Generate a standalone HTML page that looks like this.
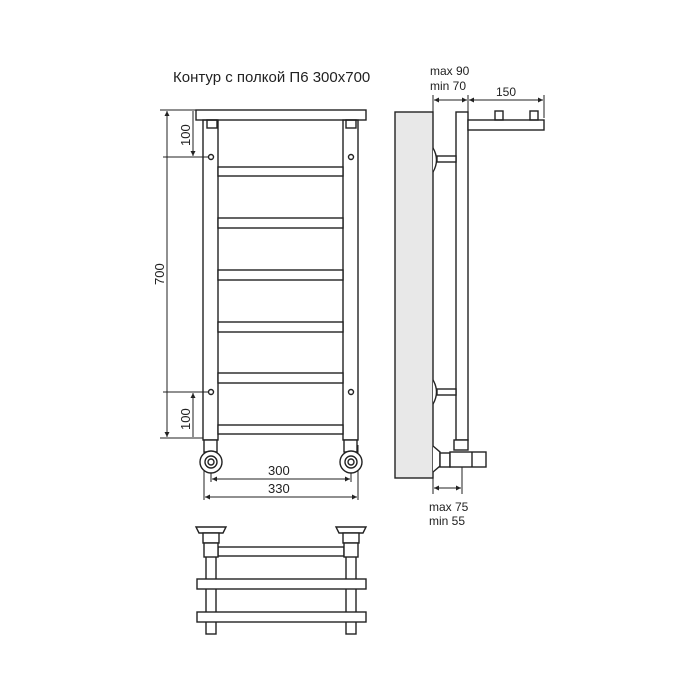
<!DOCTYPE html><html><head><style>body{margin:0;background:#fff}svg{display:block}text{font-family:"Liberation Sans",sans-serif;fill:#222}</style></head><body>
<svg width="700" height="700" viewBox="0 0 700 700" stroke="#222" stroke-width="1.4" fill="none">
<defs><marker id="a" markerWidth="6" markerHeight="6" refX="5" refY="3" orient="auto-start-reverse"><path d="M0,0.5 L5,3 L0,5.5" fill="#222" stroke="none"/></marker></defs>
<text x="173" y="82" font-size="15" stroke="none">Контур с полкой П6 300х700</text>
<rect x="196" y="110" width="170" height="10" fill="#fff"/>
<rect x="207" y="120" width="10" height="8"/><rect x="346" y="120" width="10" height="8"/>
<rect x="203" y="120" width="15" height="320"/><rect x="343" y="120" width="15" height="320"/>
<g fill="#fff"><rect x="218" y="167" width="125" height="9"/><rect x="218" y="218" width="125" height="10"/><rect x="218" y="270" width="125" height="10"/><rect x="218" y="322" width="125" height="10"/><rect x="218" y="373" width="125" height="10"/><rect x="218" y="425" width="125" height="9"/></g>
<circle cx="211" cy="157" r="2.5"/><circle cx="351" cy="157" r="2.5"/><circle cx="211" cy="392" r="2.5"/><circle cx="351" cy="392" r="2.5"/>
<g stroke-width="1">
<line x1="160" y1="110" x2="196" y2="110"/><line x1="163" y1="157" x2="208" y2="157"/><line x1="163" y1="392" x2="208" y2="392"/><line x1="160" y1="438" x2="203" y2="438"/>
<line x1="167" y1="111" x2="167" y2="437" marker-start="url(#a)" marker-end="url(#a)"/>
<line x1="193" y1="111" x2="193" y2="156" marker-end="url(#a)"/>
<line x1="193" y1="393" x2="193" y2="437" marker-start="url(#a)"/>
<line x1="212" y1="479" x2="350" y2="479" marker-start="url(#a)" marker-end="url(#a)"/>
<line x1="205" y1="497" x2="357" y2="497" marker-start="url(#a)" marker-end="url(#a)"/>
<line x1="204" y1="445" x2="204" y2="500"/><line x1="358" y1="445" x2="358" y2="500"/>
<line x1="211" y1="470" x2="211" y2="482"/><line x1="351" y1="470" x2="351" y2="482"/>
</g>
<text transform="translate(164,285) rotate(-90)" font-size="13" stroke="none">700</text>
<text transform="translate(190,146) rotate(-90)" font-size="13" stroke="none">100</text>
<text transform="translate(190,430) rotate(-90)" font-size="13" stroke="none">100</text>
<text x="268" y="475" font-size="13" stroke="none">300</text>
<text x="268" y="493" font-size="13" stroke="none">330</text>
<g fill="#fff"><rect x="204" y="440" width="13" height="12"/><rect x="344" y="440" width="13" height="12"/>
<circle cx="211" cy="462" r="11"/><circle cx="351" cy="462" r="11"/><circle cx="211" cy="462" r="6"/><circle cx="351" cy="462" r="6"/><circle cx="211" cy="462" r="3"/><circle cx="351" cy="462" r="3"/></g>
<rect x="395" y="112" width="38" height="366" fill="#e8e8e8"/>
<rect x="456" y="112" width="12" height="328" fill="#fff"/>
<rect x="468" y="120" width="76" height="10" fill="#fff"/>
<rect x="495" y="111" width="8" height="9"/><rect x="530" y="111" width="8" height="9"/>
<path d="M433,148 Q440,160 433,172" fill="#fff"/><rect x="437" y="156" width="19" height="6" fill="#fff"/>
<path d="M433,380 Q440,392 433,404" fill="#fff"/><rect x="437" y="389" width="19" height="6" fill="#fff"/>
<rect x="454" y="440" width="14" height="10" fill="#fff"/>
<path d="M433,446 L440,452 L440,466 L433,472" fill="#fff"/>
<rect x="440" y="453" width="10" height="14" fill="#fff"/>
<rect x="450" y="452" width="36" height="15" fill="#fff"/><line x1="472" y1="452" x2="472" y2="467"/>
<g stroke-width="1">
<line x1="433" y1="95" x2="433" y2="112"/><line x1="468" y1="95" x2="468" y2="112"/><line x1="544" y1="95" x2="544" y2="118"/>
<line x1="434" y1="100" x2="467" y2="100" marker-start="url(#a)" marker-end="url(#a)"/>
<line x1="469" y1="100" x2="543" y2="100" marker-start="url(#a)" marker-end="url(#a)"/>
<line x1="433" y1="478" x2="433" y2="494"/><line x1="462" y1="467" x2="462" y2="494"/>
<line x1="434" y1="488" x2="461" y2="488" marker-start="url(#a)" marker-end="url(#a)"/>
</g>
<g font-size="12" stroke="none"><text x="430" y="75">max 90</text><text x="430" y="90">min 70</text><text x="496" y="96">150</text><text x="429" y="511">max 75</text><text x="429" y="525">min 55</text></g>
<rect x="206" y="555" width="10" height="79"/><rect x="346" y="555" width="10" height="79"/>
<rect x="218" y="547" width="126" height="9" fill="#fff"/>
<rect x="197" y="579" width="169" height="10" fill="#fff"/><rect x="197" y="612" width="169" height="10" fill="#fff"/>
<g fill="#fff"><path d="M196,527 L226,527 L223,533 L199,533Z"/><rect x="203" y="533" width="16" height="10"/><rect x="204" y="543" width="14" height="14"/>
<path d="M336,527 L366,527 L363,533 L339,533Z"/><rect x="343" y="533" width="16" height="10"/><rect x="344" y="543" width="14" height="14"/></g>
</svg></body></html>
